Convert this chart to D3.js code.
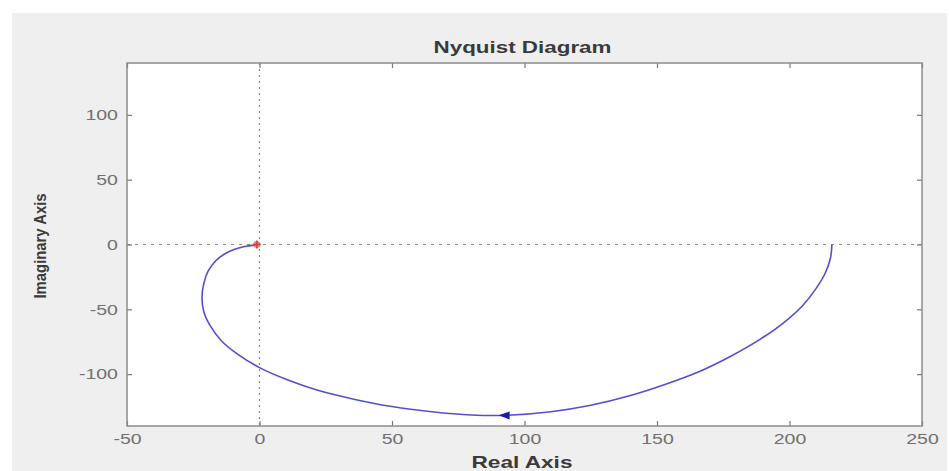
<!DOCTYPE html>
<html>
<head>
<meta charset="utf-8">
<script src="https://cdn.jsdelivr.net/npm/d3@7"></script>
<style>
  body { margin: 0; background: #fff; }
  svg { display: block; font-family: "Liberation Sans", Arial, sans-serif; }
</style>
</head>
<body>
<script>
// Nyquist curve (w going from 0 up to inf)
let realPart = [216, 215.5, 213.5, 210, 205, 198, 189, 178, 166, 153, 140, 125, 110, 92.5, 80, 65, 50, 36, 22, 10, 0, -8, -14.5, -18.5, -21, -21.7, -21, -19.5, -16.5, -12, -6, 0]
let imagPart = [0, -10, -22, -34, -47, -60, -73, -86, -98, -108, -116.5, -124, -129, -131.8, -131.5, -129, -125, -119.5, -112.5, -104, -95, -85, -74, -63, -52, -41, -30, -21, -12.5, -6, -1.8, 0]

let xTicks = [-50, 0, 50, 100, 150, 200, 250]
let yTicks = [-100, -50, 0, 50, 100]
let xRange = [-50, 250]
let yRange = [-140, 140]

let arrowIndex = 13        // where the direction arrow sits
let criticalPoint = [-1, 0] // red + marker

let w = 949
let h = 471
let padL = 127, padT = 63, padR = 922, padB = 426

let svg = d3.select('body')
    .append('svg')
    .attr('width', w)
    .attr('height', h)

// grey figure background
svg.append('rect')
    .attr('x', 12).attr('y', 13)
    .attr('width', 935).attr('height', h - 13)
    .attr('fill', '#efefef')

let x = d3.scaleLinear().domain(xRange).range([padL, padR])
let y = d3.scaleLinear().domain(yRange).range([padB, padT])

svg.append('rect')
    .attr('x', padL).attr('y', padT)
    .attr('width', padR - padL).attr('height', padB - padT)
    .attr('fill', '#fff')

// zero lines
svg.append('line')
    .attr('x1', padL).attr('x2', padR)
    .attr('y1', y(0)).attr('y2', y(0))
    .attr('stroke', '#8a8a8a').attr('stroke-width', 1.2)
    .attr('stroke-dasharray', '3,5')
svg.append('line')
    .attr('x1', x(0)).attr('x2', x(0))
    .attr('y1', padT).attr('y2', padB)
    .attr('stroke', '#8a8a8a').attr('stroke-width', 1.2)
    .attr('stroke-dasharray', '2,4')

// axes, ticks pointing inside like matlab
let plain = d => String(d)   // hyphen minus, not the unicode one

function styleAxis(g) {
    g.select('.domain').remove()
    g.selectAll('.tick line').attr('stroke', '#777').attr('stroke-width', 1.2)
    g.selectAll('.tick text')
        .attr('fill', '#707070')
        .style('font-size', '15px')
}

svg.append('g')
    .attr('transform', `translate(0,${padB})`)
    .call(d3.axisBottom(x).tickValues(xTicks).tickFormat(plain).tickSizeInner(-5).tickSizeOuter(0).tickPadding(7))
    .call(styleAxis)
    .selectAll('.tick text').attr('transform', 'scale(1.3,1)')

svg.append('g')
    .attr('transform', `translate(0,${padT})`)
    .call(d3.axisTop(x).tickValues(xTicks).tickSizeInner(-5).tickSizeOuter(0).tickFormat(''))
    .call(styleAxis)

svg.append('g')
    .attr('transform', `translate(${padL},0)`)
    .call(d3.axisLeft(y).tickValues(yTicks).tickFormat(plain).tickSizeInner(-5).tickSizeOuter(0).tickPadding(7))
    .call(styleAxis)
    .selectAll('.tick text').attr('transform', 'scale(1.3,1)')

svg.append('g')
    .attr('transform', `translate(${padR},0)`)
    .call(d3.axisRight(y).tickValues(yTicks).tickSizeInner(-5).tickSizeOuter(0).tickFormat(''))
    .call(styleAxis)

// box
svg.append('rect')
    .attr('x', padL).attr('y', padT)
    .attr('width', padR - padL).attr('height', padB - padT)
    .attr('fill', 'none')
    .attr('stroke', '#8c8c8c').attr('stroke-width', 1.5)

// the curve
let pts = realPart.map((r, i) => [r, imagPart[i]])
let line = d3.line()
    .x(d => x(d[0]))
    .y(d => y(d[1]))
    .curve(d3.curveCatmullRom.alpha(0.5))

svg.append('path')
    .attr('d', line(pts))
    .attr('fill', 'none')
    .attr('stroke', '#5050d0')
    .attr('stroke-width', 1.6)

// arrow, pointing along increasing w
let a = pts[arrowIndex], b = pts[arrowIndex + 1]
let ax = x(a[0]), ay = y(a[1])
let ang = Math.atan2(y(b[1]) - ay, x(b[0]) - ax)
svg.append('path')
    .attr('d', 'M6,0 L-5,-4 L-5,4 Z')
    .attr('transform', `translate(${ax},${ay}) rotate(${ang * 180 / Math.PI})`)
    .attr('fill', '#1a1ab8')

// red + at -1
let cp = svg.append('g')
    .attr('transform', `translate(${x(criticalPoint[0])},${y(criticalPoint[1])})`)
cp.append('circle').attr('r', 3.5).attr('fill', '#e06a6a').attr('opacity', 0.8)
cp.append('path').attr('d', 'M-4,0H4M0,-4V4').attr('stroke', '#d63c3c').attr('stroke-width', 1.5)

// labels
svg.append('text')
    .attr('x', (padL + padR) / 2 - 2).attr('y', 53)
    .attr('text-anchor', 'middle')
    .attr('textLength', 178).attr('lengthAdjust', 'spacingAndGlyphs')
    .style('font-size', '17px').style('font-weight', 'bold')
    .attr('fill', '#3a3a3a')
    .text('Nyquist Diagram')

svg.append('text')
    .attr('x', 522).attr('y', 468)
    .attr('text-anchor', 'middle')
    .attr('textLength', 101).attr('lengthAdjust', 'spacingAndGlyphs')
    .style('font-size', '17px').style('font-weight', 'bold')
    .attr('fill', '#3a3a3a')
    .text('Real Axis')

svg.append('text')
    .attr('transform', 'translate(46,246) rotate(-90)')
    .attr('text-anchor', 'middle')
    .attr('textLength', 105).attr('lengthAdjust', 'spacingAndGlyphs')
    .style('font-size', '16px').style('font-weight', 'bold')
    .attr('fill', '#3a3a3a')
    .text('Imaginary Axis')
</script>
</body>
</html>
